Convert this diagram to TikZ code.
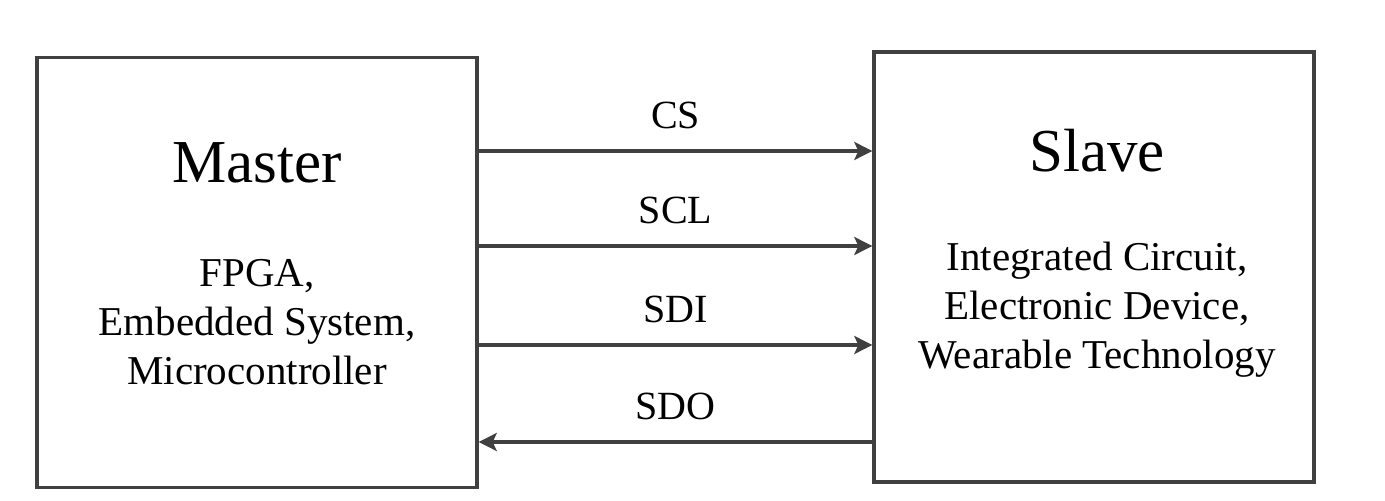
\documentclass[tikz,border=0pt]{standalone}
\usepackage{fontspec}
\setmainfont{Liberation Serif}
\usetikzlibrary{arrows.meta,positioning}
\definecolor{wire}{HTML}{404040}
\tikzset{
    %Define standard arrow tip
    >={Stealth[length=9pt,width=9pt,inset=2pt]},
    %Define style for boxes
    unit/.style={
           rectangle,
           draw=wire, line width=1.7pt,
           minimum width=220pt,
           minimum height=215pt,
           inner sep=0pt},
    title/.style={
           font=\fontsize{30.5}{36}\selectfont,
           inner sep=0pt},
    body/.style={
           align=center,
           font=\fontsize{20.5}{24.5}\selectfont,
           inner sep=0pt},
    sig/.style={
           above=10.5pt,
           font=\fontsize{20}{24}\selectfont,
           inner sep=0pt},
    % Define arrow style
    pil/.style={
           ->,
           draw=wire,
           line width=1.6pt}
}

\begin{document}
\begin{tikzpicture}[x=0.5pt,y=-0.5pt]
\useasboundingbox (0,0) rectangle (1385,501);
\node[unit](master) at (257,272.5){};
\node[unit](slave) at (1094,267){};
\node[title](mt) at (257,162.5){Master};
\node[title](st) at (1097,151){Slave};
\node[body](mb) at (257,322.5){FPGA,\\Embedded System,\\Microcontroller};
\node[body](sb) at (1097,309.5){Integrated Circuit,\\Electronic Device,\\Wearable Technology};
\coordinate (cs) at (0,151);
\coordinate (scl) at (0,246);
\coordinate (sdi) at (0,345);
\coordinate (sdo) at (0,442);
\draw[pil] (master.east |- cs) -- (slave.west |- cs) node[midway,sig]{CS};
\draw[pil] (master.east |- scl) -- (slave.west |- scl) node[midway,sig]{SCL};
\draw[pil] (master.east |- sdi) -- (slave.west |- sdi) node[midway,sig]{SDI};
\draw[pil] (slave.west |- sdo) -- (master.east |- sdo) node[midway,sig]{SDO};
\end{tikzpicture}
\end{document}
